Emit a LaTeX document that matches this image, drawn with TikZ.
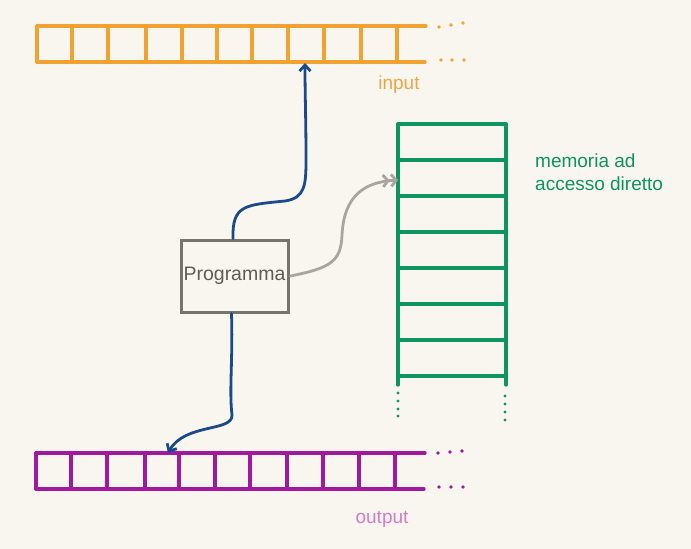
\documentclass[tikz,border=0pt]{standalone}
\usepackage{fontspec}
\setmainfont{Liberation Sans}
\usetikzlibrary{arrows.meta}
\definecolor{bg}{HTML}{F8F6EF}
\definecolor{tapein}{HTML}{F0A232}
\definecolor{tapeout}{HTML}{A0199E}
\definecolor{memc}{HTML}{0E9460}
\definecolor{arrowblue}{HTML}{1A4A8C}
\definecolor{arrowgray}{HTML}{A9A6A2}
\definecolor{boxgray}{HTML}{77736E}
\definecolor{inlabel}{HTML}{EBA64A}
\definecolor{outlabel}{HTML}{D47CC9}
\begin{document}
\begin{tikzpicture}[x=1pt,y=-1pt,
  intape/.style={draw=tapein,line width=3.3pt,line cap=round},
  outtape/.style={draw=tapeout,line width=3.3pt,line cap=round},
  memline/.style={draw=memc,line width=3.3pt,line cap=round},
  lbl/.style={font=\fontsize{19}{23}\selectfont,inner sep=0pt},
  progbox/.style={draw=boxgray,line width=3pt,minimum width=107pt,minimum height=72pt,inner sep=0pt,text=boxgray!80!black,font=\fontsize{19.5}{23}\selectfont},
  bluearrow/.style={draw=arrowblue,line width=2.8pt,line cap=round,-{Straight Barb[length=6pt,width=11pt]}},
  grayarrow/.style={draw=arrowgray,line width=2.8pt,line cap=round,-{Straight Barb[length=5pt,width=12pt] Straight Barb[length=5pt,width=12pt]}}
]
\fill[bg] (0,0) rectangle (691,549);
\useasboundingbox (0,0) rectangle (691,549);

% input tape
\draw[intape] (37,26) -- (426,26);
\draw[intape] (37,62) -- (425,62);
\foreach \x in {37,72,108,146,182,217,252,288,324,361,397}
  \draw[intape] (\x,26) -- (\x,62);
\foreach \x/\y in {439/27,451/25,463/23,441/60,452/60,464/60}
  \fill[tapein] (\x,\y) circle (1.8pt);
\node[lbl,text=inlabel] (inlbl) at (399,85) {input};

% output tape
\draw[outtape] (36,453) -- (425,453);
\draw[outtape] (36,489) -- (424,489);
\foreach \x in {36,71,107,145,179,215,250,287,323,359,395}
  \draw[outtape] (\x,453) -- (\x,489);
\foreach \x/\y in {438/453,450/452,462/451,439/487,451/487,463/487}
  \fill[tapeout] (\x,\y) circle (1.8pt);
\node[lbl,text=outlabel] (outlbl) at (382,519) {output};

% memory
\draw[memline] (398,124) -- (398,385);
\draw[memline] (506,124) -- (506,385);
\foreach \y in {124,160,196,232,268,304,340,376}
  \draw[memline] (398,\y) -- (506,\y);
\foreach \y in {393,401,409,416}
  \fill[memc] (398,\y) circle (1.7pt);
\foreach \y in {396,404,412,420}
  \fill[memc] (505,\y) circle (1.7pt);
\node[lbl,text=memc,align=left,anchor=west] (memlbl) at (535,172) {memoria ad\\accesso diretto};

% program
\node[progbox] (prog) at (234.5,276) {Programma};

% arrow targets
\coordinate (inT) at (305,63);
\coordinate (outT) at (168,453);
\coordinate (memT) at (398,180);

\draw[bluearrow] ([xshift=-1.5pt]prog.north) .. controls (232,205) and (245,205) .. (285,201)
   .. controls (305,198) and (306,185) .. (306,160)
   .. controls (306,120) and (305,95) .. (inT);
\draw[bluearrow] ([xshift=-3pt]prog.south) .. controls (233,360) and (229,390) .. (232,415)
   .. controls (233,432) and (185,423) .. (outT);
\draw[grayarrow] ([xshift=1pt]prog.east) .. controls (330,268) and (341,262) .. (342,235)
   .. controls (344,195) and (365,182) .. (memT);
\end{tikzpicture}
\end{document}
